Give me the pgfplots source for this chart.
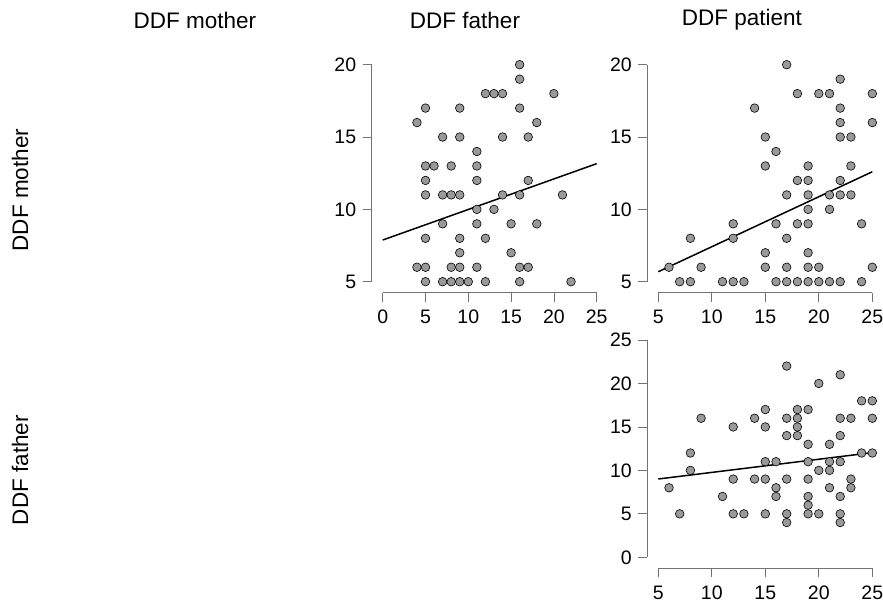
\documentclass[border=0pt]{standalone}
\usepackage{pgfplots}
\pgfplotsset{compat=1.18}
\usepackage{fontspec}
\setmainfont{Liberation Sans}

\pgfplotsset{
  ddf/.style={
    scale only axis, width=214pt,
    axis x line*=bottom, axis y line*=left,
    axis line style={black!55, line width=0.8pt, -},
    axis x line shift=11pt, axis y line shift=11pt,
    tick align=outside, major tick length=9pt,
    tick style={black!55, line width=0.8pt},
    ticklabel style={font=\fontsize{19.5}{22}\selectfont},
    xticklabel shift=5pt, yticklabel shift=3pt,
    /pgf/number format/assume math mode=true,
    clip=false,
  },
  pts/.style={only marks, mark=*, mark size=4.3pt,
    mark options={fill=black!40, draw=black, line width=0.6pt}},
  fit/.style={black, line width=1.5pt, no marks},
}

\begin{document}
\begin{tikzpicture}
\path[use as bounding box] (0pt,0pt) rectangle (883pt,606pt);

% column and row labels
\node[font=\fontsize{22.5}{26}\selectfont] at (195pt,586pt) {DDF mother};
\node[font=\fontsize{22.5}{26}\selectfont] at (465pt,586pt) {DDF father};
\node[font=\fontsize{22.5}{26}\selectfont] at (742pt,586pt) {DDF patient};
\node[font=\fontsize{22.5}{26}\selectfont, rotate=90] at (20pt,416pt) {DDF mother};
\node[font=\fontsize{22.5}{26}\selectfont, rotate=90] at (20pt,136pt) {DDF father};

% father (x) vs mother (y)
\begin{axis}[ddf, at={(382.7pt,324.3pt)}, anchor=south west, height=217pt,
  xmin=0, xmax=25, ymin=5, ymax=20,
  xtick={0,5,...,25}, ytick={5,10,15,20}]
\addplot[pts] coordinates {
(16,20) (16,19) (12,18) (13,18) (14,18) (20,18) (5,17) (9,17) (16,17)
(4,16) (18,16) (7,15) (9,15) (14,15) (17,15) (11,14) (5,13) (6,13) (8,13)
(11,13) (5,12) (11,12) (17,12) (5,11) (7,11) (8,11) (9,11) (14,11) (16,11)
(21,11) (11,10) (13,10) (7,9) (11,9) (15,9) (18,9) (5,8) (9,8) (12,8)
(9,7) (15,7) (4,6) (5,6) (8,6) (9,6) (11,6) (16,6) (17,6) (5,5) (7,5)
(8,5) (9,5) (10,5) (12,5) (16,5) (22,5)
};
\addplot[fit] coordinates {(0,7.88) (25,13.16)};
\end{axis}

% patient (x) vs mother (y)
\begin{axis}[ddf, at={(658.3pt,324.3pt)}, anchor=south west, height=217pt,
  xmin=5, xmax=25, ymin=5, ymax=20,
  xtick={5,10,...,25}, ytick={5,10,15,20}]
\addplot[pts] coordinates {
(17,20) (22,19) (18,18) (20,18) (21,18) (25,18) (14,17) (22,17) (22,16)
(25,16) (15,15) (22,15) (23,15) (16,14) (15,13) (19,13) (23,13) (18,12)
(19,12) (22,12) (17,11) (19,11) (21,11) (22,11) (23,11) (19,10) (21,10)
(12,9) (16,9) (18,9) (19,9) (24,9) (8,8) (12,8) (17,8) (15,7) (19,7)
(6,6) (9,6) (15,6) (17,6) (19,6) (20,6) (25,6) (7,5) (8,5) (11,5) (12,5)
(13,5) (16,5) (17,5) (18,5) (19,5) (20,5) (21,5) (22,5) (24,5)
};
\addplot[fit] coordinates {(5,5.69) (25,12.60)};
\end{axis}

% patient (x) vs father (y)
\begin{axis}[ddf, at={(658.3pt,48.7pt)}, anchor=south west, height=217.3pt,
  xmin=5, xmax=25, ymin=0, ymax=25,
  xtick={5,10,...,25}, ytick={0,5,...,25}]
\addplot[pts] coordinates {
(17,22) (22,21) (20,20) (24,18) (25,18) (15,17) (18,17) (19,17) (9,16)
(14,16) (17,16) (18,16) (22,16) (23,16) (25,16) (12,15) (15,15) (18,15)
(17,14) (18,14) (22,14) (19,13) (21,13) (8,12) (24,12) (25,12) (15,11)
(16,11) (19,11) (21,11) (22,11) (8,10) (20,10) (21,10) (12,9) (14,9)
(15,9) (17,9) (19,9) (23,9) (6,8) (16,8) (21,8) (23,8) (11,7) (16,7)
(19,7) (22,7) (19,6) (7,5) (12,5) (13,5) (15,5) (17,5) (19,5) (20,5)
(22,5) (17,4) (22,4)
};
\addplot[fit] coordinates {(5,9.01) (25,12.04)};
\end{axis}
\end{tikzpicture}
\end{document}
